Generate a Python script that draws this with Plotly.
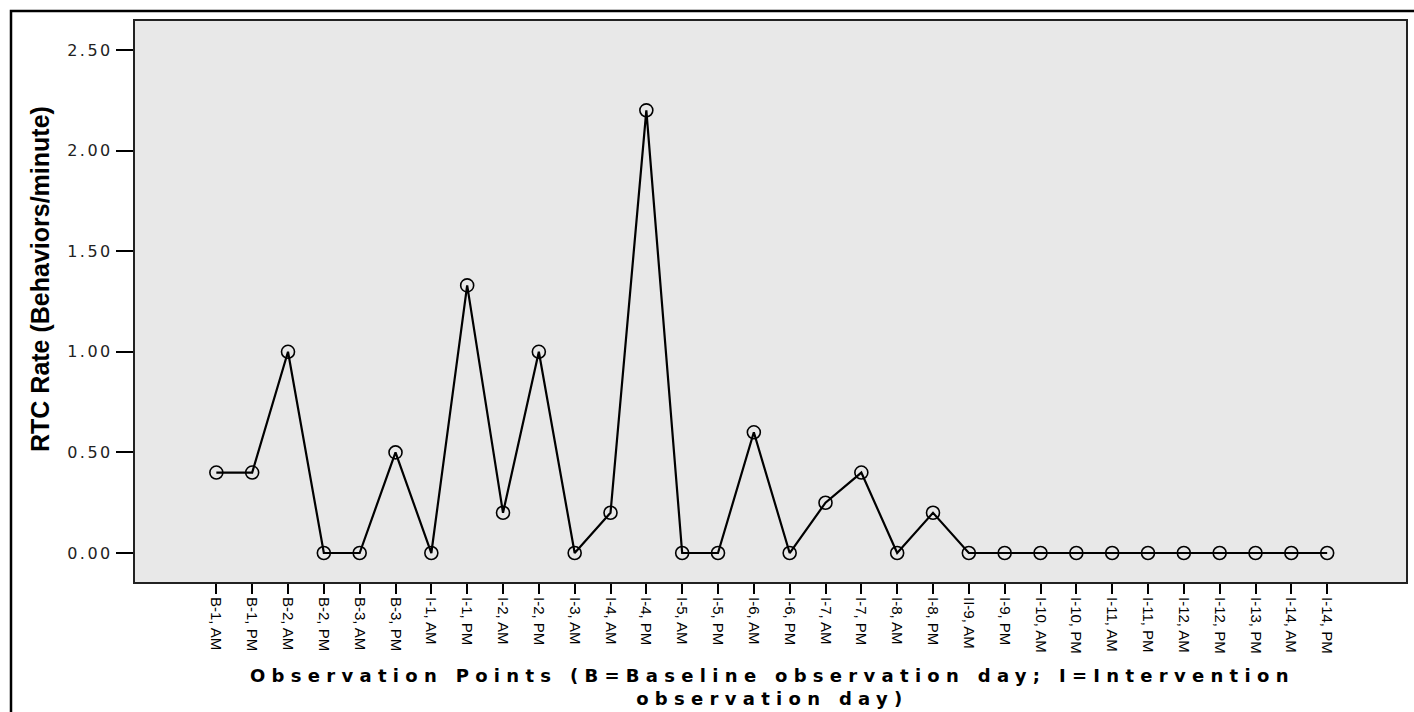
import plotly.graph_objects as go

categories = ["B-1, AM", "B-1, PM", "B-2, AM", "B-2, PM", "B-3, AM", "B-3, PM",
              "I-1, AM", "I-1, PM", "I-2, AM", "I-2, PM", "I-3, AM", "I-4, AM",
              "I-4, PM", "I-5, AM", "I-5, PM", "I-6, AM", "I-6, PM", "I-7, AM",
              "I-7, PM", "I-8, AM", "I-8, PM", "II-9, AM", "I-9, PM", "I-10, AM",
              "I-10, PM", "I-11, AM", "I-11, PM", "I-12, AM", "I-12, PM", "I-13, PM",
              "I-14, AM", "I-14, PM"]
rtc_rate = [0.40, 0.40, 1.00, 0.00, 0.00, 0.50,
            0.00, 1.33, 0.20, 1.00, 0.00, 0.20,
            2.20, 0.00, 0.00, 0.60, 0.00, 0.25,
            0.40, 0.00, 0.20, 0.00, 0.00, 0.00,
            0.00, 0.00, 0.00, 0.00, 0.00, 0.00,
            0.00, 0.00]
y_ticks = [0.0, 0.5, 1.0, 1.5, 2.0, 2.5]
x_title_lines = ["Observation Points (B=Baseline observation day; I=Intervention",
                 "observation day)"]
y_title = "RTC Rate (Behaviors/minute)"

fig = go.Figure()
fig.add_trace(go.Scatter(
    x=categories, y=rtc_rate, mode="lines+markers",
    line=dict(color="black", width=2.2),
    marker=dict(symbol="circle-open", size=13, color="black", line=dict(width=1.6)),
    showlegend=False, cliponaxis=False,
))

W, H = 1414, 712
# desired plot-area edges in window pixels
PL, PR, PT, PB = 135, 1406, 21, 582
L, R, T, B = PL, W - PR, PT, H - PB
pw, ph = W - L - R, H - T - B

def px_x(p):
    return (p - PL) / pw

def px_y(p):
    return (PB - p) / ph

def spaced(s, sp):
    return '<span style="letter-spacing:%spx">%s</span>' % (sp, s)

y_ticktext = [spaced(f"{v:.2f}", 2.5) for v in y_ticks]
x_title_html = "<br>".join(spaced(s, 6.3) for s in x_title_lines)

fig.update_layout(
    width=W, height=H,
    margin=dict(l=L, r=R, t=T, b=B, pad=0),
    paper_bgcolor="white", plot_bgcolor="#e8e8e8",
    font=dict(family="Liberation Sans, Arial, sans-serif", color="black"),
    xaxis=dict(
        type="category", range=[-2.27, 33.2], automargin=False,
        tickangle=90, ticks="outside", ticklen=10, tickwidth=2, tickcolor="black",
        tickfont=dict(family="Liberation Sans Narrow, Liberation Sans, sans-serif", size=15),
        showgrid=False, zeroline=False,
        showline=True, linecolor="#222222", linewidth=2, mirror=True,
    ),
    yaxis=dict(
        range=[-0.144, 2.644], tickvals=y_ticks, ticktext=y_ticktext, automargin=False,
        ticks="outside", ticklen=17, tickwidth=2, tickcolor="black",
        tickfont=dict(family="DejaVu Sans, sans-serif", size=16, color="#222222"),
        showgrid=False, zeroline=False,
        showline=True, linecolor="#222222", linewidth=2, mirror=True,
    ),
    annotations=[
        dict(text=x_title_html, xref="paper", yref="paper",
             x=px_x(772), y=px_y(687), xanchor="center", yanchor="middle",
             showarrow=False, align="center",
             font=dict(family="DejaVu Sans, sans-serif", size=18, weight="bold")),
        dict(text=y_title, xref="paper", yref="paper", x=px_x(40), y=px_y(279),
             xanchor="center", yanchor="middle", showarrow=False, textangle=-90,
             font=dict(family="Liberation Sans, Arial, sans-serif", size=25, weight="bold")),
    ],
    shapes=[dict(type="rect", xref="paper", yref="paper",
                 x0=px_x(11), x1=px_x(1450), y0=px_y(760), y1=px_y(11),
                 line=dict(color="black", width=2.5), fillcolor="rgba(0,0,0,0)", layer="below")],
)

fig.write_html("out.html", config={"displayModeBar": False},
               post_script="document.body.style.margin='0';document.body.style.overflow='hidden';")
